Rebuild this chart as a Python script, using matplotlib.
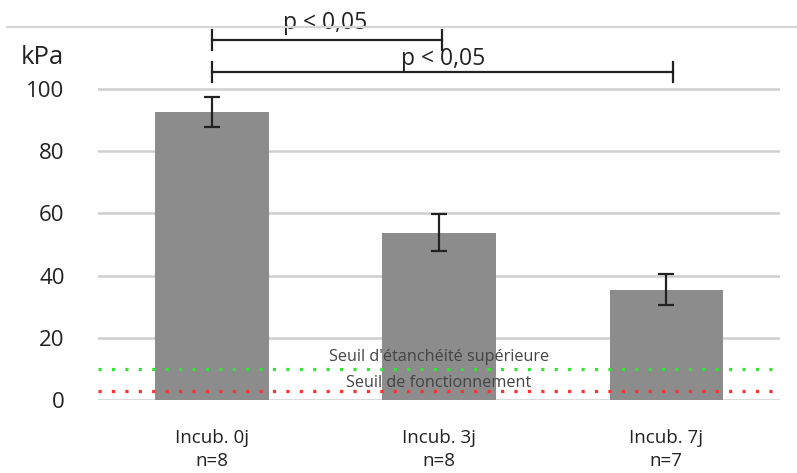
import matplotlib
matplotlib.use("Agg")
import matplotlib.pyplot as plt
from matplotlib.lines import Line2D

categories = ["Incub. 0j\nn=8", "Incub. 3j\nn=8", "Incub. 7j\nn=7"]
values = [92.6, 53.8, 35.5]
errors = [4.8, 6.0, 5.0]
yticks = [0, 20, 40, 60, 80, 100]
seuil_etanch = 10
seuil_fonct = 3
sig_pairs = [(0, 1), (0, 2)]
sig_labels = ["p < 0,05", "p < 0,05"]

plt.rcParams['font.family'] = ['Open Sans', 'DejaVu Sans']

fig = plt.figure(figsize=(7.97, 4.73), dpi=100)
ax = fig.add_axes([98/797, 73/473, 682/797, 373.2/473])
x = list(range(len(categories)))
ax.bar(x, values, width=0.5, color="#8c8c8c", zorder=2)
ax.errorbar(x, values, yerr=errors, fmt="none", ecolor="#222222",
            elinewidth=1.6, capsize=5.5, capthick=1.6, zorder=3)
ax.set_xlim(-0.5, 2.5)
ax.set_ylim(0, 120)
ax.set_yticks(yticks)
ax.set_xticks(x)
ax.set_xticklabels(categories, fontsize=13.5, color="#222222", linespacing=1.35)
ax.tick_params(axis="y", length=0, pad=24, labelsize=16, labelcolor="#222222")
ax.tick_params(axis="x", length=0, pad=21)
for s in ax.spines.values():
    s.set_visible(False)
for t in yticks:
    ax.axhline(t, color="#cfcfcf", lw=1.8, zorder=1)

ax.axhline(seuil_etanch, color="#33e633", lw=2.3, linestyle=(0, (1, 3.2)), zorder=4)
ax.axhline(seuil_fonct, color="#ff3030", lw=2.3, linestyle=(0, (1, 3.2)), zorder=4)
ax.text(1, 13.8, "Seuil d'étanchéité supérieure", ha="center", va="center",
        fontsize=11.7, color="#444444", zorder=5)
ax.text(1, 5.6, "Seuil de fonctionnement", ha="center", va="center",
        fontsize=11.7, color="#444444", zorder=5)

# significance brackets
br_y = [115.8, 105.5]
txt_x = [0.5, 1.02]
txt_y = [121.3, 109.6]
end_off = [0.015, 0.03]
for (a, b), lab, yy, tx, ty, eo in zip(sig_pairs, sig_labels, br_y, txt_x, txt_y, end_off):
    xe = b + eo
    ax.plot([a, xe], [yy, yy], color="#222222", lw=1.6, clip_on=False, zorder=6)
    ax.plot([a, a], [yy - 3.2, yy + 3.2], color="#222222", lw=1.6, clip_on=False, zorder=6)
    ax.plot([xe, xe], [yy - 3.2, yy + 3.2], color="#222222", lw=1.6, clip_on=False, zorder=6)
    ax.text(tx, ty, lab, ha="center", va="center", fontsize=16.5, color="#222222",
            clip_on=False, zorder=7)

# top separator line
fig.add_artist(Line2D([7/797, 1.0], [1 - 27/473, 1 - 27/473], color="#d4d4d4", lw=1.5, zorder=5))
fig.text(42/797, 1 - 57/473, "kPa", ha="center", va="center", fontsize=18.5, color="#222222")

fig.savefig("out.png", dpi=100, facecolor="white")
